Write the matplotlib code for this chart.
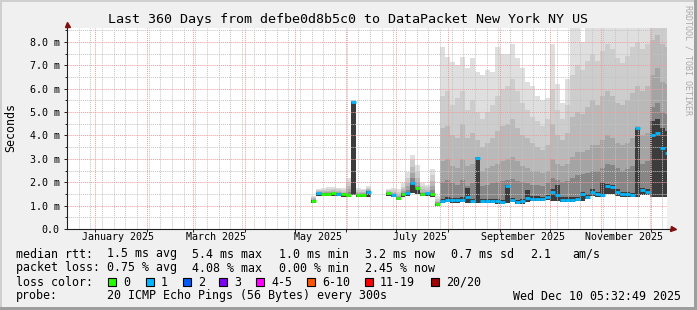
import numpy as np
import pandas as pd
import matplotlib
matplotlib.use("Agg")
import matplotlib.pyplot as plt
import matplotlib.dates as mdates
import matplotlib.transforms as mtransforms
from matplotlib.patches import Rectangle

plt.rcParams['font.family'] = ['DejaVu Sans Mono']

nan = np.nan
W, H = 697, 310

# graph window (last 360 days)
t_start = pd.Timestamp('2024-12-15 05:32:49')
t_end = pd.Timestamp('2025-12-10 05:32:49')
title = "Last 360 Days from defbe0d8b5c0 to DataPacket New York NY US"

# data comes in 3 day bins starting here
bin_start = '2025-05-10 12:00'

# median rtt in ms per bin (nan = no data)
median = [1.20, 1.52, 1.50, 1.50, 1.52, 1.50, 1.48, 1.45, 5.45, 1.45, 1.45, 1.60,
          nan, nan, nan, 1.52, 1.47, 1.33, 1.50, 1.55, 1.98, 1.74, 1.50, 1.52,
          1.50, 1.07, 1.20, 1.25, 1.22, 1.22, 1.25, 1.36, 1.20, 3.05, 1.20, 1.20,
          1.20, 1.18, 1.15, 1.85, 1.24, 1.15, 1.18, 1.33, 1.30, 1.30, 1.28, 1.35,
          1.60, 1.45, 1.25, 1.25, 1.25, 1.28, 1.48, 1.38, 1.60, 1.50, 1.45, 1.82,
          1.78, 1.60, 1.48, 1.50, 1.45, 4.31, 1.65, 1.60, 4.00, 4.10, 3.45, 3.25]

# loss colour index per bin (0 = no loss, 1 = one ping lost)
loss = [0, 1, 0, 0, 0, 1, 0, 0, 1, 0, 0, 1,
        0, 0, 0, 0, 1, 0, 0, 1, 1, 0, 0, 1,
        0, 0, 1, 1, 1, 1, 1, 1, 1, 1, 1, 1,
        1, 1, 1, 1, 1, 1, 1, 1, 1, 1, 1, 1,
        1, 1, 1, 1, 1, 1, 1, 1, 1, 1, 1, 1,
        1, 1, 1, 1, 1, 1, 1, 1, 1, 1, 1, 1]

# smoke: bottom of the cloud and six upper levels (outer -> inner)
smoke_lo = [1.12, 1.40, 1.40, 1.40, 1.42, 1.40, 1.38, 1.35, 1.45, 1.35, 1.35, 1.38,
            nan, nan, nan, 1.40, 1.38, 1.25, 1.38, 1.40, 1.55, 1.50, 1.40, 1.40,
            1.35, 1.00, 1.10, 1.15, 1.12, 1.12, 1.15, 1.12, 1.10, 1.12, 1.10, 1.10,
            1.10, 1.08, 1.05, 1.10, 1.14, 1.05, 1.08, 1.15, 1.20, 1.20, 1.18, 1.25,
            1.20, 1.18, 1.15, 1.15, 1.15, 1.18, 1.20, 1.28, 1.40, 1.38, 1.35, 1.50,
            1.50, 1.42, 1.36, 1.38, 1.35, 1.38, 1.45, 1.45, 1.38, 1.38, 1.38, 1.38]

smoke1 = [1.42, 1.72, 1.74, 1.78, 1.80, 1.77, 1.74, 2.20, 5.50, 1.75, 1.72, 1.82,
          nan, nan, nan, 1.72, 1.75, 1.70, 1.95, 2.45, 3.17, 2.75, 1.95, 1.90,
          2.55, 1.40, 7.80, 7.37, 7.16, 7.00, 7.37, 6.90, 7.30, 6.70, 6.60, 6.80,
          6.70, 7.80, 7.50, 7.50, 7.90, 7.30, 6.90, 6.30, 6.10, 5.70, 5.50, 5.60,
          7.90, 6.20, 5.40, 6.40, 8.62, 8.62, 8.00, 8.62, 8.62, 8.62, 8.62, 8.62,
          8.62, 8.62, 8.62, 8.62, 8.62, 8.62, 8.62, 8.62, 8.62, 8.62, 8.62, 8.62]

smoke2 = [1.36, 1.67, 1.68, 1.70, 1.72, 1.70, 1.67, 2.00, 5.50, 1.67, 1.65, 1.75,
          nan, nan, nan, 1.66, 1.67, 1.60, 1.80, 2.20, 2.95, 2.45, 1.82, 1.78,
          2.30, 1.28, 5.70, 5.90, 5.30, 5.60, 5.90, 5.10, 5.50, 5.00, 4.70, 5.00,
          5.30, 5.70, 6.00, 6.10, 6.40, 5.90, 5.40, 5.10, 4.80, 4.60, 4.40, 4.70,
          6.00, 5.10, 4.70, 5.30, 6.60, 7.00, 6.80, 7.20, 7.50, 7.20, 7.60, 7.90,
          7.70, 7.30, 7.10, 7.40, 7.80, 8.00, 7.70, 7.90, 8.62, 8.62, 8.62, 8.62]

smoke3 = [1.31, 1.62, 1.62, 1.63, 1.65, 1.63, 1.60, 1.85, 5.48, 1.60, 1.58, 1.70,
          nan, nan, nan, 1.61, 1.60, 1.50, 1.70, 1.98, 2.65, 2.20, 1.70, 1.68,
          2.05, 1.20, 4.30, 4.40, 4.00, 3.90, 4.50, 3.90, 4.10, 3.80, 3.50, 3.70,
          3.90, 4.20, 4.40, 4.50, 4.70, 4.30, 4.00, 3.90, 3.70, 3.50, 3.40, 3.60,
          4.50, 4.00, 3.80, 4.10, 4.80, 5.00, 4.90, 5.20, 5.50, 5.30, 5.70, 5.90,
          5.70, 5.40, 5.30, 5.50, 5.80, 6.10, 5.90, 6.10, 8.10, 8.30, 7.90, 7.80]

smoke4 = [1.27, 1.58, 1.57, 1.58, 1.60, 1.57, 1.55, 1.70, 5.47, 1.54, 1.52, 1.66,
          nan, nan, nan, 1.57, 1.54, 1.43, 1.62, 1.82, 2.40, 2.00, 1.60, 1.60,
          1.85, 1.14, 2.90, 3.00, 2.70, 2.60, 3.00, 2.70, 2.80, 3.10, 2.50, 2.60,
          2.70, 2.80, 2.90, 3.00, 3.10, 2.90, 2.70, 2.60, 2.50, 2.50, 2.40, 2.50,
          3.00, 2.80, 2.70, 2.80, 3.10, 3.30, 3.30, 3.40, 3.60, 3.60, 3.80, 4.00,
          3.90, 3.70, 3.60, 3.70, 3.90, 4.40, 4.00, 4.10, 6.60, 6.90, 6.30, 6.20]

smoke5 = [1.24, 1.55, 1.54, 1.54, 1.56, 1.54, 1.52, 1.58, 5.46, 1.50, 1.49, 1.63,
          nan, nan, nan, 1.54, 1.50, 1.38, 1.56, 1.68, 2.20, 1.85, 1.55, 1.56,
          1.68, 1.10, 2.00, 2.10, 1.95, 1.90, 2.10, 1.85, 1.95, 3.07, 1.85, 1.90,
          1.95, 2.00, 2.05, 2.10, 2.15, 2.05, 2.00, 1.95, 1.90, 1.90, 1.85, 1.95,
          2.20, 2.10, 2.00, 2.05, 2.20, 2.30, 2.35, 2.40, 2.50, 2.50, 2.60, 2.80,
          2.75, 2.60, 2.50, 2.55, 2.70, 4.33, 2.80, 2.90, 5.20, 5.40, 5.00, 4.90]

smoke6 = [1.22, 1.53, 1.52, 1.52, 1.54, 1.52, 1.50, 1.50, 5.45, 1.47, 1.47, 1.61,
          nan, nan, nan, 1.53, 1.48, 1.35, 1.52, 1.58, 2.02, 1.77, 1.52, 1.54,
          1.55, 1.08, 1.30, 1.35, 1.32, 1.32, 1.35, 1.75, 1.30, 3.06, 1.30, 1.30,
          1.30, 1.28, 1.25, 1.88, 1.34, 1.25, 1.28, 1.68, 1.40, 1.40, 1.38, 1.45,
          1.70, 1.90, 1.35, 1.35, 1.35, 1.38, 1.58, 1.48, 1.70, 1.60, 2.02, 1.92,
          1.88, 1.70, 1.58, 1.60, 1.55, 4.32, 1.75, 1.70, 4.60, 4.70, 4.30, 4.20]

smoke_colors = ['#dfdfdf', '#cdcdcd', '#b9b9b9', '#a4a4a4', '#868686', '#3c3c3c']

# legend data
month_labels = ['January 2025', 'March 2025', 'May 2025', 'July 2025',
                'September 2025', 'November 2025']
rtt_stats = ['1.5 ms avg', '5.4 ms max', '1.0 ms min', '3.2 ms now',
             '0.7 ms sd', '2.1', 'am/s']
loss_stats = ['0.75 % avg', '4.08 % max', '0.00 % min', '2.45 % now']
loss_labels = ['0', '1', '2', '3', '4-5', '6-10', '11-19', '20/20']
loss_colors = ['#26ff00', '#00b8ff', '#0059ff', '#7e00ff', '#ff00ff',
               '#ff5500', '#ff0000', '#a00000']
probe_text = '20 ICMP Echo Pings (56 Bytes) every 300s'
stamp_text = 'Wed Dec 10 05:32:49 2025'

# ---------------------------------------------------------------
n = len(median)
edges = mdates.date2num(pd.date_range(bin_start, periods=n + 1, freq='3D'))
x2 = np.repeat(edges, 2)[1:-1]


def steps(vals):
    return np.repeat(np.asarray(vals, dtype=float), 2)


fig = plt.figure(figsize=(W / 100, H / 100), dpi=100)
fig.patch.set_facecolor('#f0f0f0')
ax = fig.add_axes([67 / W, 1 - 229 / H, 599.5 / W, 201.5 / H])
ax.set_facecolor('white')

x0 = mdates.date2num(t_start)
x1 = mdates.date2num(t_end)
ax.set_xlim(x0, x1)
ax.set_ylim(0, 8.62)

# smoke, outer band first
lo2 = steps(smoke_lo)
for lvl, col in zip([smoke1, smoke2, smoke3, smoke4, smoke5, smoke6], smoke_colors):
    ax.fill_between(x2, lo2, steps(lvl), color=col, lw=0, zorder=1)

# median, coloured by loss
med = np.asarray(median, dtype=float)
ok = ~np.isnan(med)
ax.hlines(med[ok], edges[:-1][ok], edges[1:][ok],
          colors=[loss_colors[k] for k, g in zip(loss, ok) if g],
          lw=2.0, zorder=4)

# grid (drawn over the data like rrdtool does)
grid_c = '#c4c4c4'
mgrid_c = '#f09a9a'
dash = (0, (1, 1))
weeks = mdates.date2num(pd.date_range(t_start, t_end, freq='W-SUN'))
months = mdates.date2num(pd.date_range('2025-01-01', t_end, freq='MS'))
for d in weeks:
    ax.axvline(d, color=grid_c, lw=0.7, ls=dash, zorder=2.5)
for d in months:
    ax.axvline(d, color=mgrid_c, lw=0.7, ls=dash, zorder=2.6)
for v in np.arange(0.5, 8.6, 1.0):
    ax.axhline(v, color=grid_c, lw=0.7, ls=dash, zorder=2.5)
for v in np.arange(1.0, 8.6, 1.0):
    ax.axhline(v, color=mgrid_c, lw=0.7, ls=dash, zorder=2.6)

# axes / ticks
for s in ['top', 'right']:
    ax.spines[s].set_visible(False)
for s in ['left', 'bottom']:
    ax.spines[s].set_color('#202020')
    ax.spines[s].set_linewidth(0.8)
    ax.spines[s].set_zorder(5)

yt = np.arange(0, 9)
ax.set_yticks(yt)
ax.set_yticklabels(['0.0'] + ['%.1f m' % v for v in yt[1:]])
ax.set_yticks(np.arange(0.5, 8.6, 1.0), minor=True)
ax.tick_params(axis='y', which='major', length=2.2, width=0.7, color='#202020',
               labelsize=7.2, pad=3)
ax.tick_params(axis='y', which='minor', length=1.4, width=0.7, color='#202020')
ax.set_xticks(months)
ax.set_xticklabels([])
ax.tick_params(axis='x', which='major', length=2.0, width=0.7, color='#202020')

# arrows at the axis ends
ax.plot([1.0, 1.0 + 6 / 599.5], [0, 0], color='#202020', lw=0.8,
        transform=ax.transAxes, clip_on=False, zorder=5)
ax.plot([1.0 + 6 / 599.5], [0], marker='>', ms=3.6, color='#801010', mec='#801010',
        transform=ax.transAxes, clip_on=False, zorder=6)
ax.plot([0, 0], [1.0, 1.0 + 4 / 201.5], color='#202020', lw=0.8,
        transform=ax.transAxes, clip_on=False, zorder=5)
ax.plot([0], [1.0 + 4 / 201.5], marker='^', ms=3.6, color='#801010', mec='#801010',
        transform=ax.transAxes, clip_on=False, zorder=6)

# month labels centred in the middle of the month
lbl_tr = mtransforms.blended_transform_factory(ax.transData, fig.transFigure)
for lbl in month_labels:
    pos = pd.to_datetime(lbl, format='%B %Y') + pd.Timedelta(days=14)
    ax.text(mdates.date2num(pos), 1 - 237 / H, lbl, fontsize=7.2, ha='center',
            va='center', transform=lbl_tr)

# title, y label, watermark
fig.text(0.5, 1 - 19 / H, title, ha='center', va='center', fontsize=9.6)
fig.text(11 / W, 1 - 128 / H, 'Seconds', rotation=90, ha='center', va='center',
         fontsize=8.4)
fig.text(688 / W, 1 - 5 / H, 'RRDTOOL / TOBI OETIKER', rotation=270, ha='center',
         va='top', fontsize=6, color='#aaaaaa')


def ftext(px, py, s):
    fig.text(px / W, 1 - py / H, s, ha='left', va='center', fontsize=8.4)


# legend block
ftext(16, 254, 'median rtt:')
for px, s in zip([107, 192, 279, 365, 451, 530, 572], rtt_stats):
    ftext(px, 254, s)
ftext(16, 268, 'packet loss:')
for px, s in zip([107, 192, 279, 365], loss_stats):
    ftext(px, 268, s)
ftext(16, 282, 'loss color:')
for bx, lab, col in zip([108, 146, 183, 219, 256, 307, 365, 431], loss_labels, loss_colors):
    fig.add_artist(Rectangle((bx / W, 1 - 286 / H), 8 / W, 8 / H, transform=fig.transFigure,
                             fc=col, ec='black', lw=0.8))
    ftext(bx + 15, 282, lab)
ftext(16, 296, 'probe:')
ftext(107, 296, probe_text)
ftext(513, 296, stamp_text)

# 3d frame round the image
fig.add_artist(Rectangle((0, 1 - 2 / H), 1, 2 / H, transform=fig.transFigure,
                         fc='#cfcfcf', lw=0))
fig.add_artist(Rectangle((0, 0), 2 / W, 1, transform=fig.transFigure,
                         fc='#cfcfcf', lw=0))
fig.add_artist(Rectangle((0, 0), 1, 3 / H, transform=fig.transFigure,
                         fc='#9e9e9e', lw=0))
fig.add_artist(Rectangle((1 - 3 / W, 0), 3 / W, 1, transform=fig.transFigure,
                         fc='#9e9e9e', lw=0))

fig.savefig('out.png', dpi=100, facecolor=fig.get_facecolor())
